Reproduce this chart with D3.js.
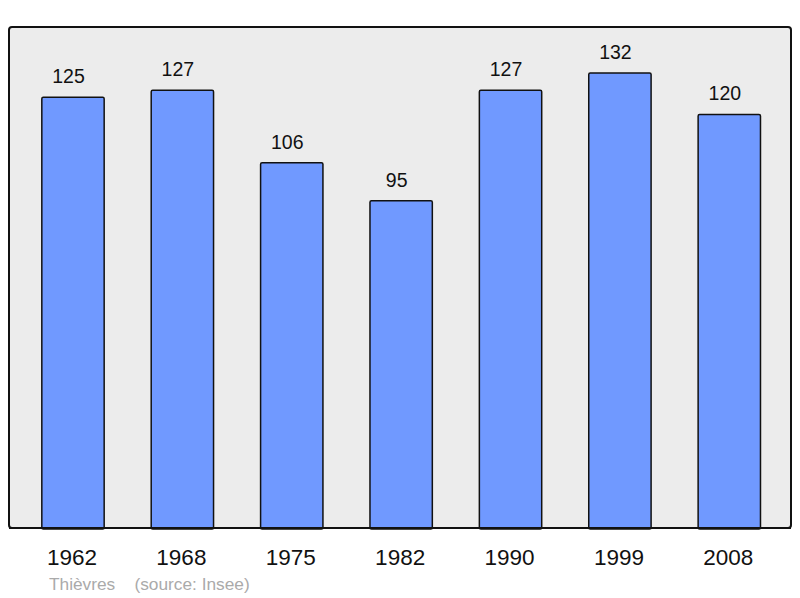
<!DOCTYPE html>
<html><head><meta charset="utf-8">
<script src="https://cdn.jsdelivr.net/npm/d3@7"></script>
<style>body{margin:0;background:#fff}</style>
</head><body>
<svg id="c" width="800" height="598"></svg>
<script>
const years = ["1962","1968","1975","1982","1990","1999","2008"];
const population = [125,127,106,95,127,132,120];
const caption = "Thièvres    (source: Insee)";

const svg = d3.select("#c");
svg.append("rect").attr("x",9).attr("y",27).attr("width",782).attr("height",501)
  .attr("rx",3).attr("fill","#ececec").attr("stroke","#111").attr("stroke-width",2);

const x = d3.scaleBand().domain(years).range([18.3,784]).paddingInner(0.43).paddingOuter(0.215);
const y = d3.scaleLinear().domain([0,140]).range([529, 529-140*3.455]);

const g = svg.append("g");
g.selectAll("rect.bar").data(years).join("rect").attr("class","bar")
  .attr("x",d=>x(d)).attr("width",x.bandwidth())
  .attr("y",(d,i)=>y(population[i])).attr("height",(d,i)=>y(0)-y(population[i]))
  .attr("fill","#7099ff").attr("stroke","#111").attr("stroke-width",1.5).attr("rx",1.5);

g.selectAll("text.val").data(years).join("text").attr("class","val")
  .attr("x",d=>x(d)+x.bandwidth()/2-4.5).attr("y",(d,i)=>y(population[i])-14)
  .attr("text-anchor","middle").attr("font-family","Liberation Sans, Arial, sans-serif")
  .attr("font-size",19.5).attr("fill","#111").text((d,i)=>population[i]);

svg.append("line").attr("x1",9).attr("x2",791).attr("y1",528).attr("y2",528).attr("stroke","#111").attr("stroke-width",2);

const xa = svg.append("g").attr("transform","translate(-1,565)")
  .call(d3.axisBottom(x).tickSize(0).tickPadding(0));
xa.select(".domain").remove();
xa.selectAll("text").attr("font-family","Liberation Sans, Arial, sans-serif").attr("font-size",22.5)
  .attr("fill","#111").attr("dy",0);

svg.append("text").attr("x",49).attr("y",590).attr("font-family","Liberation Sans, Arial, sans-serif")
  .attr("font-size",17.3).attr("fill","#aaa").attr("xml:space","preserve").style("white-space","pre").text(caption);
</script>
</body></html>
